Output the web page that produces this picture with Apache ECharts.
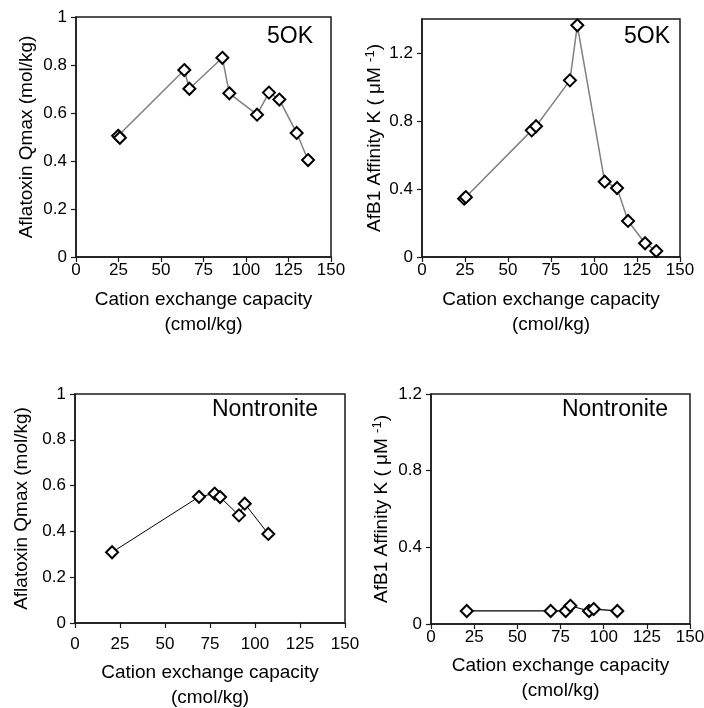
<!DOCTYPE html>
<html>
<head>
<meta charset="utf-8">
<script src="https://cdn.jsdelivr.net/npm/echarts@6/dist/echarts.min.js"></script>
<style>
html,body{margin:0;padding:0;background:#fff;}
#chart{width:704px;height:708px;}
</style>
</head>
<body>
<div id="chart"></div>
<script>
// ---- Data ----
const xTicks = [0, 25, 50, 75, 100, 125, 150];
const qTicks = [0, 0.2, 0.4, 0.6, 0.8, 1];
const kTicks = [0, 0.4, 0.8, 1.2];

// 5OK – Aflatoxin Qmax
const cec5OK_Q = [24.8, 25.8, 63.7, 66.7, 86.1, 90.2, 106.5, 113.5, 119.6, 129.8, 136.5];
const q5OK     = [0.505, 0.497, 0.779, 0.701, 0.830, 0.682, 0.593, 0.685, 0.656, 0.517, 0.404];
// 5OK – AfB1 affinity K
const cec5OK_K = [24.5, 25.5, 63.8, 66.3, 86.0, 90.3, 106.2, 113.4, 119.8, 129.7, 136.2];
const k5OK     = [0.343, 0.352, 0.745, 0.769, 1.039, 1.363, 0.443, 0.406, 0.212, 0.081, 0.035];
// Nontronite – Aflatoxin Qmax
const cecNon_Q = [20.6, 68.9, 77.6, 80.6, 91.1, 94.3, 107.4];
const qNon     = [0.309, 0.551, 0.565, 0.550, 0.470, 0.521, 0.389];
// Nontronite – AfB1 affinity K
const cecNon_K = [20.7, 69.3, 78.0, 80.7, 91.5, 94.2, 107.9];
const kNon     = [0.068, 0.068, 0.068, 0.095, 0.068, 0.078, 0.068];

const panelTitles = ['5OK', '5OK', 'Nontronite', 'Nontronite'];
const xName = 'Cation exchange capacity\n(cmol/kg)';
const yNameQ = 'Aflatoxin Qmax (mol/kg)';
const yNameK = 'AfB1 Affinity K ( \u03bcM {sup|-1})';

// ---- Layout ----
const REG = '"Liberation Sans", Arial, sans-serif';

const grids = [
  {left: 76, top: 17, width: 255, height: 240},
  {left: 422, top: 19, width: 258, height: 238},
  {left: 75, top: 394, width: 270, height: 229},
  {left: 431, top: 394, width: 259, height: 230}
];
const yCfg = [
  {max: 1, ticks: qTicks, name: yNameQ, gap: 38},
  {max: 1.4, ticks: kTicks, name: yNameK, gap: 31},
  {max: 1, ticks: qTicks, name: yNameQ, gap: 42},
  {max: 1.2, ticks: kTicks, name: yNameK, gap: 38}
];
const xCfg = [
  {labelMargin: 5, nameGap: 30},
  {labelMargin: 5, nameGap: 30},
  {labelMargin: 13, nameGap: 37},
  {labelMargin: 5, nameGap: 29}
];
const seriesData = [
  {x: cec5OK_Q, y: q5OK, color: '#808080', width: 1.5},
  {x: cec5OK_K, y: k5OK, color: '#808080', width: 1.5},
  {x: cecNon_Q, y: qNon, color: '#000', width: 1},
  {x: cecNon_K, y: kNon, color: '#000', width: 1.2}
];
const titlePos = [
  {right: 391, top: 25},
  {right: 34, top: 25},
  {right: 386, top: 398},
  {right: 36, top: 398}
];

const axisLine = {show: true, lineStyle: {color: '#1a1a1a', width: 1.5}};

const option = {
  animation: false,
  backgroundColor: '#fff',
  grid: grids.map(g => Object.assign({show: true, containLabel: false, outerBoundsMode: 'none',
    borderColor: '#1a1a1a', borderWidth: 1.5, backgroundColor: '#fff'}, g)),
  xAxis: grids.map((g, i) => ({
    type: 'value', gridIndex: i, min: 0, max: 150, interval: 25,
    axisLine: axisLine,
    axisTick: {show: true, inside: false, length: 5, lineStyle: {color: '#1a1a1a', width: 1.2}, customValues: xTicks},
    axisLabel: {customValues: xTicks, margin: xCfg[i].labelMargin, fontFamily: REG, fontSize: 17, color: '#000'},
    splitLine: {show: false},
    name: xName, nameLocation: 'middle', nameGap: xCfg[i].nameGap,
    nameTextStyle: {fontFamily: REG, fontSize: 19, lineHeight: 25, color: '#000'}
  })),
  yAxis: grids.map((g, i) => ({
    type: 'value', gridIndex: i, min: 0, max: yCfg[i].max,
    axisLine: axisLine,
    axisTick: {show: true, inside: false, length: 5, lineStyle: {color: '#1a1a1a', width: 1.2}, customValues: yCfg[i].ticks},
    axisLabel: {customValues: yCfg[i].ticks, margin: 9, fontFamily: REG, fontSize: 17, color: '#000'},
    splitLine: {show: false},
    name: yCfg[i].name, nameLocation: 'middle', nameRotate: 90, nameGap: yCfg[i].gap,
    nameTextStyle: {fontFamily: REG, fontSize: 19, lineHeight: 22, color: '#000',
      rich: {sup: {fontFamily: REG, fontSize: 13, verticalAlign: 'top', lineHeight: 22, color: '#000'}}}
  })),
  graphic: panelTitles.map((t, i) => ({
    type: 'text', right: titlePos[i].right, top: titlePos[i].top, z: 100,
    style: {text: t, font: '23px "Liberation Sans", Arial, sans-serif', fill: '#000'}
  })),
  series: seriesData.map((s, i) => ({
    type: 'line', xAxisIndex: i, yAxisIndex: i,
    data: s.x.map((v, j) => [v, s.y[j]]),
    symbol: 'diamond', symbolSize: 12, showAllSymbol: true,
    itemStyle: {color: '#fff', borderColor: '#000', borderWidth: 2},
    lineStyle: {color: s.color, width: s.width},
    emphasis: {disabled: true}
  }))
};

const chart = echarts.init(document.getElementById('chart'), null, {renderer: 'canvas'});
chart.setOption(option);
</script>
</body>
</html>
